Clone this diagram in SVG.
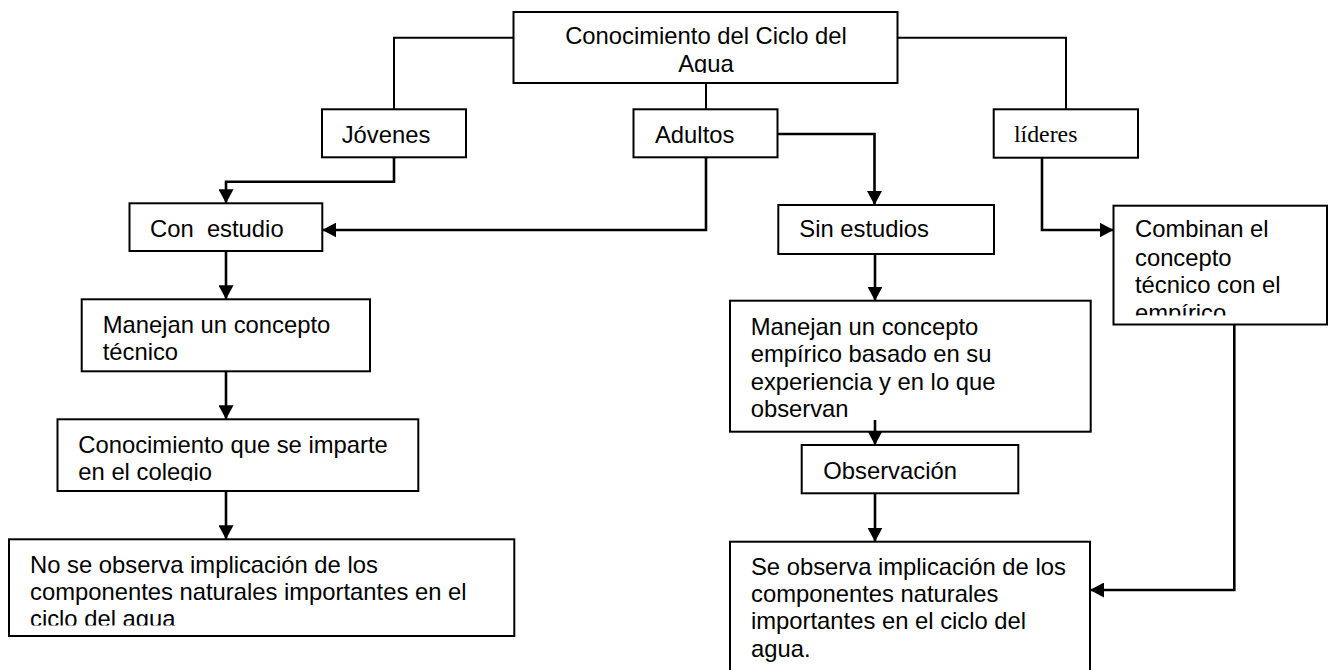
<svg xmlns="http://www.w3.org/2000/svg" width="1329" height="670" viewBox="0 0 1329 670">
<style>
.box{fill:#fff;stroke:#000;stroke-width:2}
.t{font-family:"Liberation Sans",Arial,sans-serif;font-size:23.8px;fill:#000}
.ts{font-family:"Liberation Serif","Times New Roman",serif;font-size:23.8px;fill:#000}
.c{fill:none;stroke:#000;stroke-width:2}
.ca{fill:none;stroke:#000;stroke-width:2.6;marker-end:url(#ah)}
</style>
<defs>
<marker id="ah" markerUnits="userSpaceOnUse" markerWidth="15" markerHeight="15" refX="14" refY="7.5" orient="auto">
<path d="M0,0 L14,7.5 L0,15 z" fill="#000"/>
</marker>
<clipPath id="clipTop"><rect x="514" y="12" width="383" height="61"/></clipPath>
<clipPath id="clipCon"><rect x="58" y="420" width="360" height="61"/></clipPath>
<clipPath id="clipNo"><rect x="10" y="540" width="504" height="85.5"/></clipPath>
<clipPath id="clipComb"><rect x="1114" y="206" width="213" height="109.5"/></clipPath>
</defs>

<g id="node-top">
<rect class="box" x="513.5" y="12" width="384" height="71"/>
<g clip-path="url(#clipTop)">
<text class="t" x="706" y="44.3" text-anchor="middle">Conocimiento del Ciclo del</text>
<text class="t" x="706" y="71.7" text-anchor="middle">Agua</text>
</g>
</g>

<g id="node-jovenes">
<rect class="box" x="322" y="109.3" width="144" height="48"/>
<text class="t" x="341.7" y="143.3">Jóvenes</text>
</g>

<g id="node-adultos">
<rect class="box" x="633.5" y="109.3" width="144" height="48"/>
<text class="t" x="655" y="142.7">Adultos</text>
</g>

<g id="node-lideres">
<rect class="box" x="993.7" y="109.3" width="144.3" height="48.4"/>
<text class="ts" x="1014" y="141.7">líderes</text>
</g>

<g id="node-con-estudio">
<rect class="box" x="129.5" y="203.3" width="192.8" height="47.7"/>
<text class="t" x="150" y="236.7" xml:space="preserve">Con  estudio</text>
</g>

<g id="node-sin-estudios">
<rect class="box" x="778.3" y="205" width="215.7" height="49"/>
<text class="t" x="799.3" y="237.3">Sin estudios</text>
</g>

<g id="node-combinan">
<rect class="box" x="1113.5" y="205.7" width="213.5" height="118.8"/>
<g clip-path="url(#clipComb)">
<text class="t" x="1135" y="237">Combinan el</text>
<text class="t" x="1135" y="265.5">concepto</text>
<text class="t" x="1135" y="293.3">técnico con el</text>
<text class="t" x="1135" y="321">empírico</text>
</g>
</g>

<g id="node-manejan-tecnico">
<rect class="box" x="81.7" y="299.3" width="288.3" height="72"/>
<text class="t" x="102.7" y="333.3">Manejan un concepto</text>
<text class="t" x="102.7" y="360">técnico</text>
</g>

<g id="node-manejan-empirico">
<rect class="box" x="730" y="300.7" width="360.7" height="131"/>
<text class="t" x="750.7" y="335">Manejan un concepto</text>
<text class="t" x="750.7" y="361.7">empírico basado en su</text>
<text class="t" x="750.7" y="389.5">experiencia y en lo que</text>
<text class="t" x="750.7" y="416.7">observan</text>
</g>

<g id="node-conocimiento-colegio">
<rect class="box" x="57.5" y="419.3" width="360.8" height="71.7"/>
<g clip-path="url(#clipCon)">
<text class="t" x="78.3" y="453.3">Conocimiento que se imparte</text>
<text class="t" x="78.3" y="479.5">en el colegio</text>
</g>
</g>

<g id="node-observacion">
<rect class="box" x="801.7" y="445" width="216.6" height="48.3"/>
<text class="t" x="823.3" y="479">Observación</text>
</g>

<g id="node-no-se-observa">
<rect class="box" x="9" y="539.3" width="505.3" height="96.7"/>
<g clip-path="url(#clipNo)">
<text class="t" x="30" y="573.3">No se observa implicación de los</text>
<text class="t" x="30" y="599.8">componentes naturales importantes en el</text>
<text class="t" x="30" y="626.5">ciclo del agua</text>
</g>
</g>

<g id="node-se-observa">
<rect class="box" x="730" y="541.7" width="360" height="135"/>
<text class="t" x="751" y="575">Se observa implicación de los</text>
<text class="t" x="751" y="601.7">componentes naturales</text>
<text class="t" x="751" y="629.3">importantes en el ciclo del</text>
<text class="t" x="751" y="656.7">agua.</text>
</g>

<g id="connectors">
<polyline class="c" points="513.5,37.7 394,37.7 394,109.3"/>
<polyline class="c" points="706,83 706,109.3"/>
<polyline class="c" points="897.5,37.7 1066,37.7 1066,109.3"/>
<polyline class="ca" points="394,157.3 394,181.7 226,181.7 226,203.3"/>
<polyline class="ca" points="706,157.3 706,230 322.3,230"/>
<polyline class="ca" points="777.5,134 874.5,134 874.5,205"/>
<polyline class="ca" points="1042,157.7 1042,230 1113.5,230"/>
<polyline class="ca" points="226,251 226,299.3"/>
<polyline class="ca" points="226,371.3 226,419.3"/>
<polyline class="ca" points="226,491 226,539.3"/>
<polyline class="ca" points="875,254 875,300.7"/>
<polyline class="ca" points="875,420 875,445"/>
<polyline class="ca" points="875,493.3 875,541.7"/>
<polyline class="ca" points="1234.3,324.5 1234.3,590 1090,590"/>
</g>
</svg>
